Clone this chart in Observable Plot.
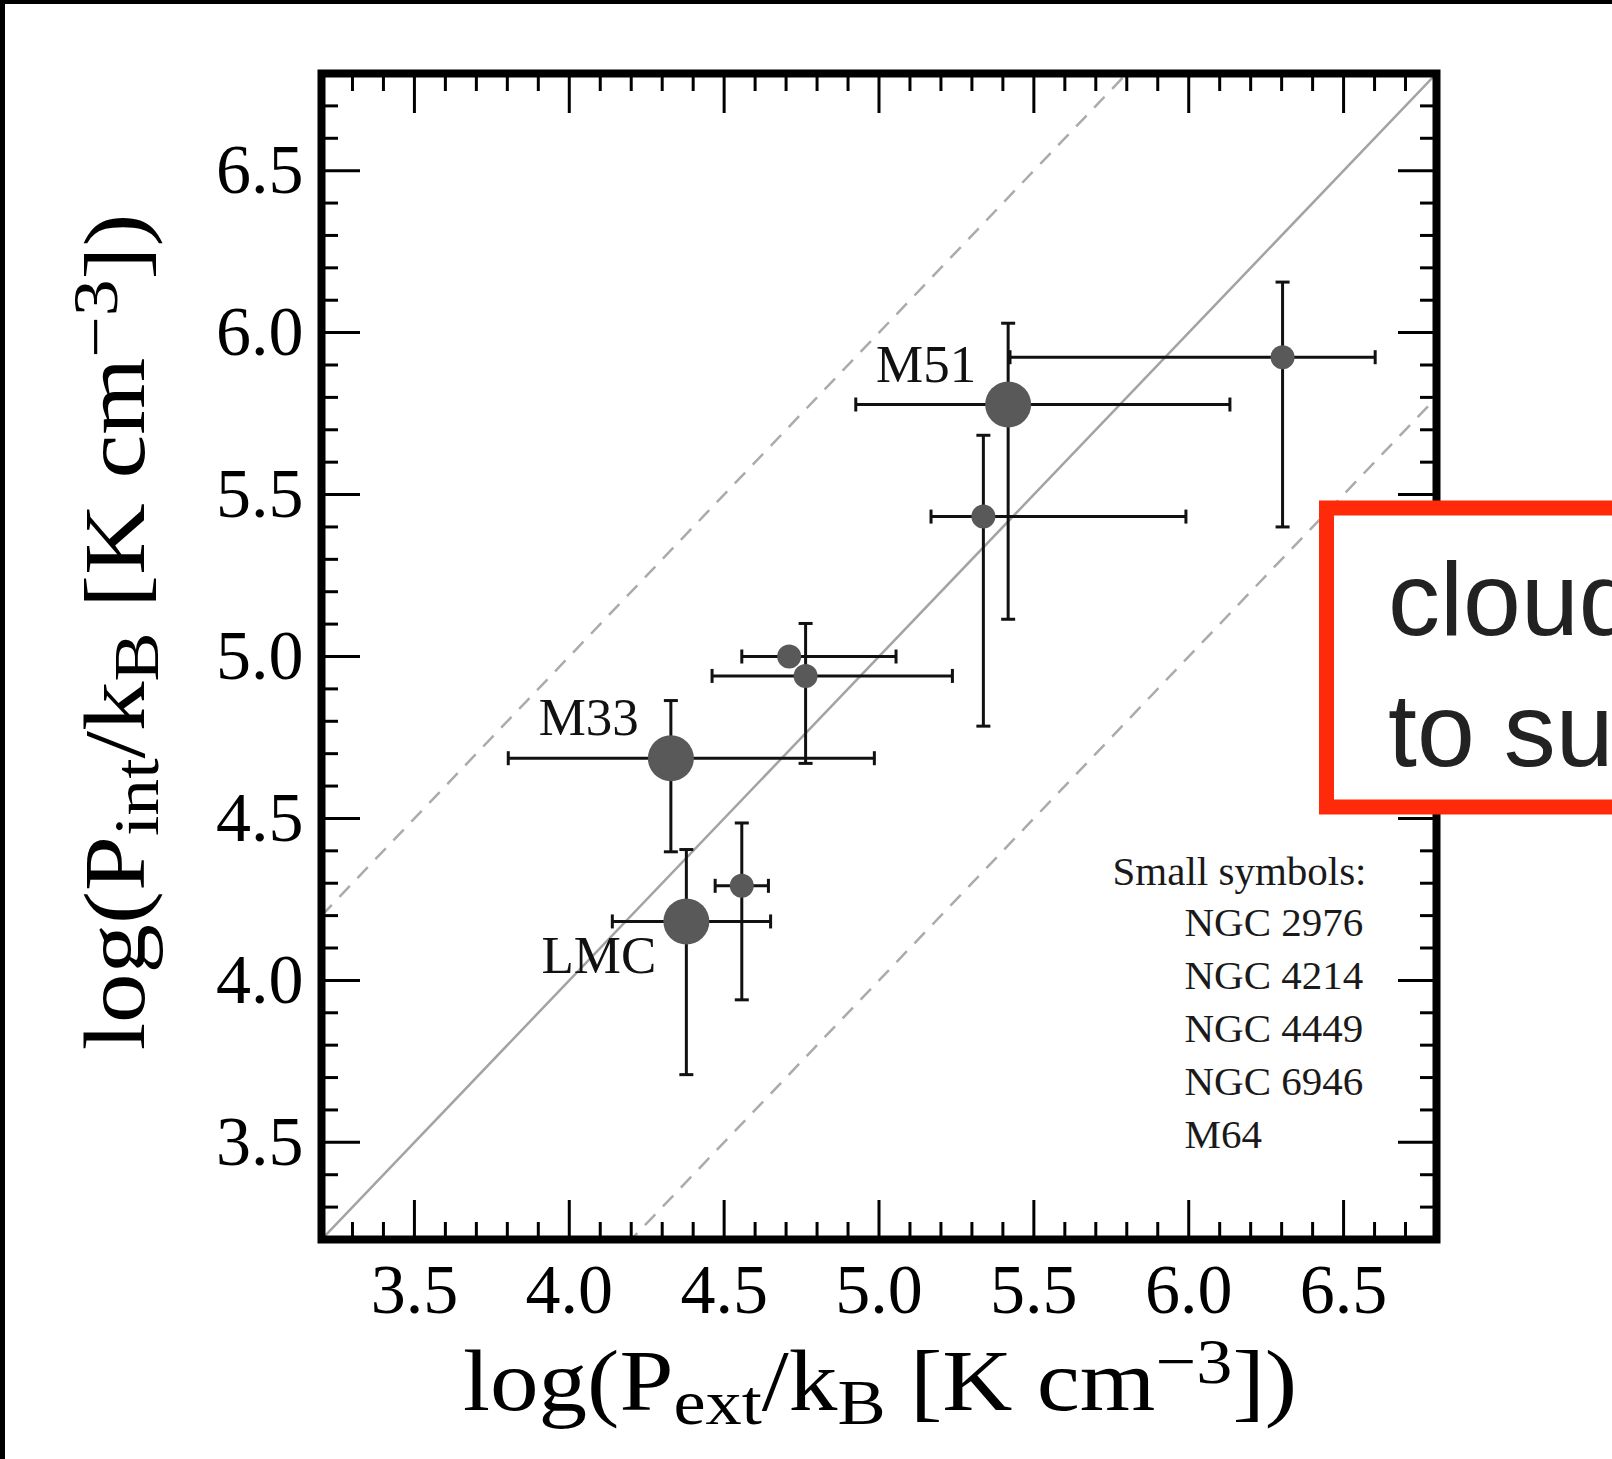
<!DOCTYPE html>
<html>
<head>
<meta charset="utf-8">
<script src="https://cdn.jsdelivr.net/npm/d3@7"></script>
<script src="https://cdn.jsdelivr.net/npm/@observablehq/plot@0.6"></script>
<style>
  html, body { margin: 0; padding: 0; background: #fff; }
  #page { position: relative; width: 1612px; height: 1459px; overflow: hidden; background: #fff; }
  #chart svg { display: block; }
  .edge-top { position: absolute; left: 0; top: 0; width: 1612px; height: 4px; background: #000; }
  .edge-left { position: absolute; left: 0; top: 0; width: 5px; height: 1459px; background: #000; }
  #callout { position: absolute; left: 0; top: 0; }
</style>
</head>
<body>
<div id="page">
  <div id="chart"></div>
  <div class="edge-top"></div>
  <div class="edge-left"></div>
</div>
<script>
// Galaxy-averaged pressures: external (x) vs internal (y), log K cm^-3
const pExt   = [5.417, 6.303, 5.337, 4.710, 4.763, 4.328, 4.378, 4.557];
const pExtLo = [4.925, 5.423, 5.168, 4.557, 4.461, 3.803, 4.139, 4.471];
const pExtHi = [6.133, 6.602, 5.991, 5.055, 5.237, 4.985, 4.650, 4.643];
const pInt   = [5.778, 5.924, 5.432, 5.000, 4.940, 4.686, 4.182, 4.292];
const pIntLo = [5.115, 5.400, 4.785, null,  4.670, 4.397, 3.709, 3.940];
const pIntHi = [6.029, 6.156, 5.683, null,  5.102, 4.864, 4.404, 4.486];
const galaxyLabels = ["M51", "", "", "", "", "M33", "LMC", ""];
const isLarge = [true, false, false, false, false, true, true, false];

// Reference relations y = x + offset
const relationOffsets = [0, 1, -1];

// Axis ticks
const axisDomain = [3.2, 6.8];
const majorTicks = [3.5, 4.0, 4.5, 5.0, 5.5, 6.0, 6.5];
const minorTicks = d3.range(33, 68).map(d => d / 10).filter(d => !majorTicks.some(m => Math.abs(m - d) < 1e-9));

// Legend lines
const legendTitle = "Small symbols:";
const legendNames = ["NGC 2976", "NGC 4214", "NGC 4449", "NGC 6946", "M64"];

const galaxies = pExt.map((x, i) => ({
  x, xLo: pExtLo[i], xHi: pExtHi[i],
  y: pInt[i], yLo: pIntLo[i], yHi: pIntHi[i],
  label: galaxyLabels[i], large: isLarge[i]
}));
const withYErr = galaxies.filter(d => d.yLo != null);
const relations = relationOffsets.map(k => ({
  k, x1: axisDomain[0], y1: axisDomain[0] + k, x2: axisDomain[1], y2: axisDomain[1] + k
}));

// short cap symbols for error-bar ends
const capV = { draw(ctx, size) { const r = Math.sqrt(size / Math.PI); ctx.moveTo(0, -r); ctx.lineTo(0, r); } };
const capH = { draw(ctx, size) { const r = Math.sqrt(size / Math.PI); ctx.moveTo(-r, 0); ctx.lineTo(r, 0); } };

const fmt = d3.format(".1f");
const serif = "'Liberation Serif', 'Times New Roman', serif";
const barColor = "#111";
const dotColor = "#595959";

const tickStyle = { label: null, fill: "none", stroke: "#000", strokeWidth: 3 };

const chart = Plot.plot({
  width: 1612,
  height: 1459,
  marginLeft: 321,
  marginRight: 176,
  marginTop: 73,
  marginBottom: 220,
  x: { domain: axisDomain },
  y: { domain: axisDomain },
  style: { fontFamily: serif, background: "transparent", color: "#000" },
  marks: [
    // one-to-one and +/- 1 dex relations
    Plot.link(relations.filter(d => d.k === 0), {
      x1: "x1", y1: "y1", x2: "x2", y2: "y2", clip: true,
      stroke: "#a3a3a3", strokeWidth: 2.5
    }),
    Plot.link(relations.filter(d => d.k !== 0), {
      x1: "x1", y1: "y1", x2: "x2", y2: "y2", clip: true,
      stroke: "#ababab", strokeWidth: 2.5, strokeDasharray: "15,11"
    }),

    // error bars
    Plot.ruleY(galaxies, { y: "y", x1: "xLo", x2: "xHi", stroke: barColor, strokeWidth: 3 }),
    Plot.ruleX(withYErr, { x: "x", y1: "yLo", y2: "yHi", stroke: barColor, strokeWidth: 3 }),
    Plot.dot(galaxies, { x: "xLo", y: "y", r: 7, symbol: capV, stroke: barColor, strokeWidth: 3, fill: "none" }),
    Plot.dot(galaxies, { x: "xHi", y: "y", r: 7, symbol: capV, stroke: barColor, strokeWidth: 3, fill: "none" }),
    Plot.dot(withYErr, { x: "x", y: "yLo", r: 7, symbol: capH, stroke: barColor, strokeWidth: 3, fill: "none" }),
    Plot.dot(withYErr, { x: "x", y: "yHi", r: 7, symbol: capH, stroke: barColor, strokeWidth: 3, fill: "none" }),

    // galaxy symbols: large for the labelled galaxies, small for the rest
    Plot.dot(galaxies.filter(d => !d.large), { x: "x", y: "y", r: 12, fill: dotColor, stroke: "none" }),
    Plot.dot(galaxies.filter(d => d.large), { x: "x", y: "y", r: 23, fill: dotColor, stroke: "none" }),

    // galaxy names
    Plot.text(galaxies.filter(d => d.label && d.label !== "LMC"), {
      x: "x", y: "y", text: "label", textAnchor: "end", lineAnchor: "bottom",
      dx: -32, dy: -23, fontSize: 53, fill: "#111"
    }),
    Plot.text(galaxies.filter(d => d.label === "LMC"), {
      x: "x", y: "y", text: "label", textAnchor: "end", lineAnchor: "bottom",
      dx: -30, dy: 52, fontSize: 53, fill: "#111"
    }),

    // legend
    Plot.text([legendTitle], {
      text: d => d, frameAnchor: "bottom-right", textAnchor: "start", lineAnchor: "bottom",
      dx: -324, dy: -355, fontSize: 41, fill: "#1a1a1a"
    }),
    Plot.text([legendNames.join("\n")], {
      text: d => d, frameAnchor: "bottom-right", textAnchor: "start", lineAnchor: "bottom",
      dx: -252, dy: -92, fontSize: 41, lineHeight: 1.29, fill: "#1a1a1a"
    }),

    // inward ticks on all four sides
    Plot.axisX({ anchor: "bottom", ticks: majorTicks, tickSize: 39, dy: -39, ...tickStyle }),
    Plot.axisX({ anchor: "bottom", ticks: minorTicks, tickSize: 17, dy: -17, ...tickStyle }),
    Plot.axisX({ anchor: "top", ticks: majorTicks, tickSize: 39, dy: 39, ...tickStyle }),
    Plot.axisX({ anchor: "top", ticks: minorTicks, tickSize: 17, dy: 17, ...tickStyle }),
    Plot.axisY({ anchor: "left", ticks: majorTicks, tickSize: 39, dx: 39, ...tickStyle }),
    Plot.axisY({ anchor: "left", ticks: minorTicks, tickSize: 17, dx: 17, ...tickStyle }),
    Plot.axisY({ anchor: "right", ticks: majorTicks, tickSize: 39, dx: -39, ...tickStyle }),
    Plot.axisY({ anchor: "right", ticks: minorTicks, tickSize: 17, dx: -17, ...tickStyle }),

    // tick labels
    Plot.axisX({ anchor: "bottom", ticks: majorTicks, tickSize: 0, tickPadding: 24, tickFormat: fmt, fontSize: 70, label: null }),
    Plot.axisY({ anchor: "left", ticks: majorTicks, tickSize: 0, tickPadding: 18, tickFormat: fmt, fontSize: 70, label: null }),

    Plot.frame({ stroke: "#000", strokeWidth: 8 })
  ]
});

document.getElementById("chart").appendChild(chart);

// Axis titles with sub/superscripts (set in a slightly wide serif)
const svg = d3.select(chart);
function addTitle(g, parts) {
  const t = g.append("text").attr("text-anchor", "middle").attr("font-family", serif)
    .attr("font-size", 86).attr("fill", "#000");
  let shift = 0;
  for (const [s, kind] of parts) {
    const target = kind === "sub" ? 14 : kind === "sup" ? -27 : 0;
    t.append("tspan").attr("dy", target - shift)
      .attr("font-size", kind ? 64 : 86).text(s);
    shift = target;
  }
  return t;
}
const xTitle = svg.append("g").attr("transform", "translate(880,1410) scale(1.13,1)");
addTitle(xTitle, [["log(P"], ["ext", "sub"], ["/k"], ["B", "sub"], [" [K cm"], ["\u22123", "sup"], ["])"]]);
const yTitle = svg.append("g").attr("transform", "translate(144,632) rotate(-90) scale(1.15,1)");
addTitle(yTitle, [["log(P"], ["int", "sub"], ["/k"], ["B", "sub"], [" [K cm"], ["\u22123", "sup"], ["])"]]);

// Callout box overlapping the right edge
const callout = d3.select("#page").append("svg").attr("id", "callout")
  .attr("width", 1612).attr("height", 1459);
callout.append("rect").attr("x", 1326.5).attr("y", 508).attr("width", 400).attr("height", 299)
  .attr("fill", "#fff").attr("stroke", "#ff2a0a").attr("stroke-width", 15);
const calloutText = callout.append("text").attr("font-family", "'Liberation Sans', Arial, sans-serif")
  .attr("font-size", 104).attr("fill", "#222");
calloutText.append("tspan").attr("x", 1388).attr("y", 635).text("cloud");
calloutText.append("tspan").attr("x", 1388).attr("y", 766).text("to su");
</script>
</body>
</html>
